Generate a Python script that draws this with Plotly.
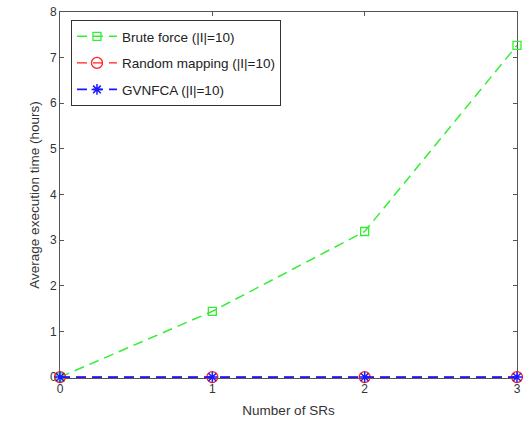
import plotly.graph_objects as go

x_vals = [0, 1, 2, 3]
brute_force = [0.0, 1.44, 3.19, 7.27]
random_mapping = [0.0, 0.0, 0.0, 0.0]
gvnfca = [0.0, 0.0, 0.0, 0.0]
names = ["Brute force (|I|=10)", "Random mapping (|I|=10)", "GVNFCA (|I|=10)"]

fig = go.Figure()
fig.add_trace(go.Scatter(x=x_vals, y=brute_force, name=names[0], mode="lines+markers", legendgroup="a",
                         cliponaxis=False,
                         line=dict(color="#33ee33", dash="10px,6px", width=1.5),
                         marker=dict(symbol="square-open", size=8, color="#33ee33", line=dict(width=1.3))))
fig.add_trace(go.Scatter(x=x_vals, y=random_mapping, name=names[1], mode="lines+markers", legendgroup="b",
                         cliponaxis=False,
                         line=dict(color="#ff2020", dash="10px,6px", width=1.4),
                         marker=dict(symbol="circle-open", size=11, color="#ff2020", line=dict(width=1.3))))
fig.add_trace(go.Scatter(x=x_vals, y=gvnfca, name=names[2], mode="lines+markers", legendgroup="c",
                         cliponaxis=False,
                         line=dict(color="#1a1aff", dash="10px,6px", width=1.8),
                         marker=dict(symbol="asterisk-open", size=9, color="#1a1aff", line=dict(width=1.5, color="#1a1aff"))))

axis_common = dict(showline=True, linecolor="#555555", linewidth=1, mirror="ticks",
                   ticks="inside", ticklen=4, tickcolor="#555555", showgrid=False, zeroline=False,
                   automargin=False, layer="below traces",
                   tickfont=dict(size=12, color="#333333"))
fig.update_layout(
    width=529, height=426,
    margin=dict(l=60, r=12, t=12, b=48),
    plot_bgcolor="white", paper_bgcolor="white",
    font=dict(family="Liberation Sans, Arial, sans-serif", size=12, color="#333333"),
    xaxis=dict(range=[0, 3], tickvals=[0, 1, 2, 3],
               title=dict(text="Number of SRs", standoff=10, font=dict(size=13.5)), **axis_common),
    yaxis=dict(range=[-0.02, 8], tickvals=list(range(9)),
               title=dict(text="Average execution time (hours)", standoff=7, font=dict(size=13.5)), **axis_common),
    legend=dict(x=0.024, y=0.978, xanchor="left", yanchor="top", bgcolor="white",
                bordercolor="#333333", borderwidth=1, font=dict(size=13.5, color="#222222"),
                itemwidth=40, tracegroupgap=6, traceorder="grouped"),
    showlegend=True,
)
fig.write_html("out.html", config={"displayModeBar": False},
               post_script="document.body.style.margin='0';")
